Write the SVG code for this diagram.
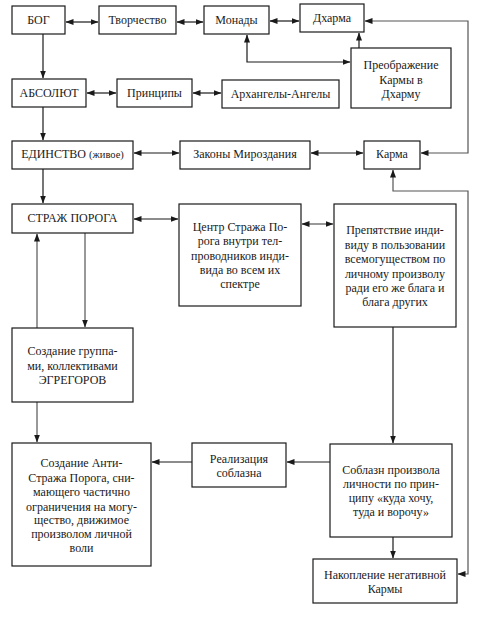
<svg xmlns="http://www.w3.org/2000/svg" width="482" height="619" viewBox="0 0 482 619">
<defs>
<marker id="ah" markerUnits="userSpaceOnUse" markerWidth="8" markerHeight="6" refX="7.5" refY="3" orient="auto-start-reverse"><path d="M0,0 L8,3 L0,6 z" fill="#1a1a1a"/></marker>
</defs>
<style>
.box{fill:#fff;stroke:#1a1a1a;stroke-width:1.2}
text{font-family:"Liberation Serif","Times New Roman",serif;font-size:12px;fill:#1a1a1a;text-anchor:middle}
.c{fill:none;stroke:#1a1a1a;stroke-width:1.2}
.g{stroke:#555}
.b{marker-start:url(#ah);marker-end:url(#ah)}
.e{marker-end:url(#ah)}
</style>
<rect width="482" height="619" fill="#fff"/>
<g id="connectors">
<path class="c b" d="M66,22 H98"/>
<path class="c b" d="M177,22 H203"/>
<path class="c b" d="M270,21 H299"/>
<path class="c b g" d="M365,21 H468 V153 H421"/>
<path class="c b" d="M247,35 V62 H350"/>
<path class="c e" d="M359,48 V33"/>
<path class="c e" d="M43,34 V78"/>
<path class="c b" d="M87,93 H116"/>
<path class="c b" d="M193,93 H221"/>
<path class="c e" d="M43,107 V140"/>
<path class="c b" d="M134,153 H179"/>
<path class="c b" d="M311,153 H363"/>
<path class="c e" d="M43,169 V203"/>
<path class="c b" d="M134,219 H178"/>
<path class="c b g" d="M302,224 H333"/>
<path class="c e" d="M393,327 V443"/>
<path class="c e" d="M393,537 V558"/>
<path class="c b g" d="M393,170 V191 H468 V574 H458"/>
<path class="c e" d="M330,462 H287"/>
<path class="c e" d="M192,462 H152"/>
<path class="c e g" d="M85,233 V327"/>
<path class="c e g" d="M37,328 V234"/>
<path class="c e g" d="M37,402 V442"/>
</g>
<g id="bog"><rect class="box" x="12" y="6" width="53" height="28"/><text x="38.5" y="24">БОГ</text></g>
<g id="tvorchestvo"><rect class="box" x="99" y="6" width="77" height="28"/><text x="137.5" y="24">Творчество</text></g>
<g id="monady"><rect class="box" x="204" y="6" width="65" height="28"/><text x="236.5" y="24">Монады</text></g>
<g id="dharma"><rect class="box" x="300" y="4" width="64" height="28"/><text x="332" y="22">Дхарма</text></g>
<g id="preobrazhenie"><rect class="box" x="351" y="48" width="100" height="60"/><text x="401" y="69">Преображение</text><text x="401" y="84">Кармы в</text><text x="401" y="98">Дхарму</text></g>
<g id="absolut"><rect class="box" x="12" y="79" width="74" height="28"/><text x="49" y="97">АБСОЛЮТ</text></g>
<g id="principy"><rect class="box" x="117" y="79" width="75" height="28"/><text x="154.5" y="97">Принципы</text></g>
<g id="arhangely"><rect class="box" x="222" y="80" width="117" height="28"/><text x="280.5" y="98">Архангелы-Ангелы</text></g>
<g id="edinstvo"><rect class="box" x="12" y="141" width="121" height="28"/><text x="72.5" y="158">ЕДИНСТВО <tspan font-size="10.5">(живое)</tspan></text></g>
<g id="zakony"><rect class="box" x="180" y="141" width="130" height="28"/><text x="245" y="158">Законы Мироздания</text></g>
<g id="karma"><rect class="box" x="364" y="141" width="56" height="28"/><text x="392" y="158">Карма</text></g>
<g id="strazh"><rect class="box" x="12" y="204" width="121" height="29"/><text x="72.5" y="222">СТРАЖ ПОРОГА</text></g>
<g id="centr"><rect class="box" x="179" y="204" width="122" height="102"/><text x="240" y="231">Центр Стража По-</text><text x="240" y="245">рога внутри тел-</text><text x="240" y="260">проводников инди-</text><text x="240" y="274">вида во всем их</text><text x="240" y="288">спектре</text></g>
<g id="prepyatstvie"><rect class="box" x="334" y="204" width="122" height="123"/><text x="395" y="234">Препятствие инди-</text><text x="395" y="249">виду в пользовании</text><text x="395" y="263">всемогуществом по</text><text x="395" y="278">личному произволу</text><text x="395" y="292">ради его же блага и</text><text x="395" y="306">блага других</text></g>
<g id="gruppy"><rect class="box" x="12" y="328" width="121" height="74"/><text x="72.5" y="355">Создание группа-</text><text x="72.5" y="370">ми, коллективами</text><text x="72.5" y="384">ЭГРЕГОРОВ</text></g>
<g id="antistrazh"><rect class="box" x="12" y="443" width="139" height="123"/><text x="81.5" y="467">Создание Анти-</text><text x="81.5" y="482">Стража Порога, сни-</text><text x="81.5" y="496">мающего частично</text><text x="81.5" y="511">ограничения на могу-</text><text x="81.5" y="524">щество, движимое</text><text x="81.5" y="538">произволом личной</text><text x="81.5" y="552">воли</text></g>
<g id="realizaciya"><rect class="box" x="192" y="443" width="94" height="44"/><text x="239" y="463">Реализация</text><text x="239" y="477">соблазна</text></g>
<g id="soblazn"><rect class="box" x="330" y="444" width="122" height="93"/><text x="391" y="474">Соблазн произвола</text><text x="391" y="488">личности по прин-</text><text x="391" y="502">ципу «куда хочу,</text><text x="391" y="516">туда и ворочу»</text></g>
<g id="nakoplenie"><rect class="box" x="313" y="559" width="144" height="44"/><text x="385" y="579">Накопление негативной</text><text x="385" y="593">Кармы</text></g>
</svg>
